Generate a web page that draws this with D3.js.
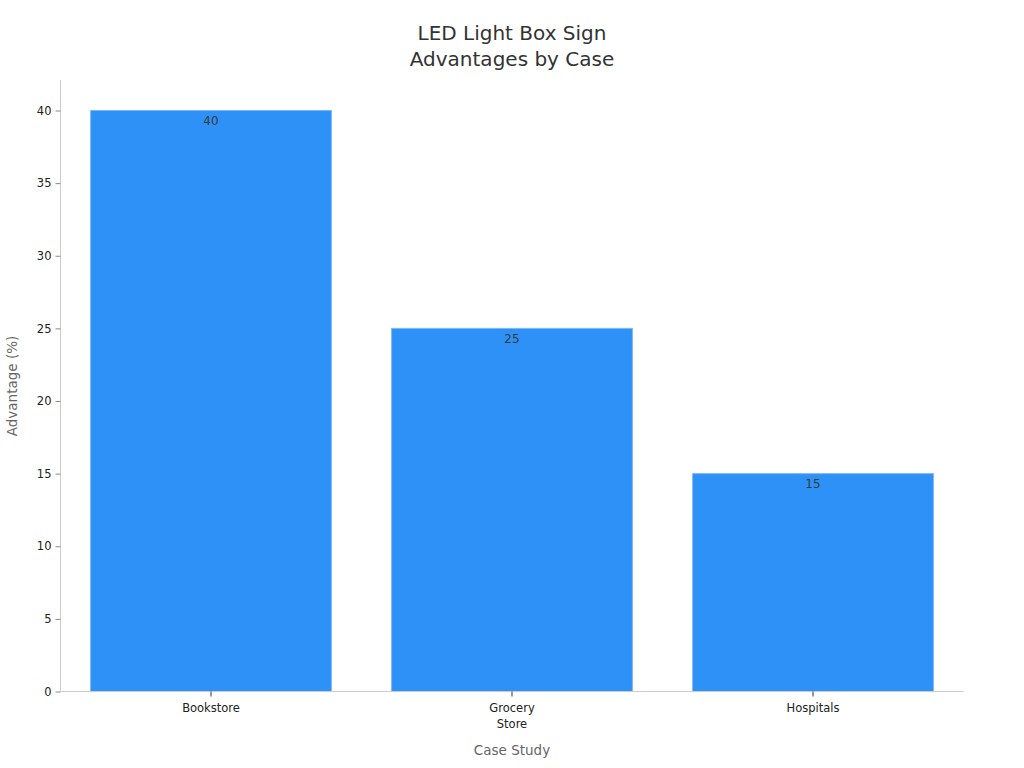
<!DOCTYPE html>
<html><head><meta charset="utf-8">
<script src="https://cdn.jsdelivr.net/npm/d3@7"></script>
<style>body{margin:0;background:#fff;}svg{font-family:"DejaVu Sans",sans-serif;}</style>
</head><body>
<svg id="c" width="1024" height="768"></svg>
<script>
const categories = [["Bookstore"], ["Grocery", "Store"], ["Hospitals"]];
const values = [40, 25, 15];
const yTicks = [0, 5, 10, 15, 20, 25, 30, 35, 40];
const titleLines = ["LED Light Box Sign", "Advantages by Case"];

(function() {
const svg = d3.select("#c");
const mLeft = 60.5, mRight = 963.5, mTop = 80, mBottom = 691.5;
const keys = categories.map(c => c.join(" "));
const x = d3.scaleBand().domain(keys).range([mLeft, mRight]).paddingInner(0.2).paddingOuter(0.1);
const y = d3.scaleLinear().domain([0, 42.1]).range([mBottom, mTop]);

// title
svg.append("text").attr("text-anchor", "middle").attr("fill", "#333")
  .attr("font-size", 20)
  .selectAll("tspan").data(titleLines).join("tspan")
  .attr("x", 512).attr("y", (d, i) => 40 + i * 26).text(d => d);

// bars
svg.selectAll("rect.bar").data(values).join("rect").attr("class", "bar")
  .attr("x", (d, i) => x(keys[i])).attr("width", x.bandwidth())
  .attr("y", d => y(d)).attr("height", d => y(0) - y(d))
  .attr("fill", "#2e91f7").attr("stroke", "#7ab8f5").attr("stroke-width", 1);

// value labels
svg.selectAll("text.val").data(values).join("text").attr("class", "val")
  .attr("x", (d, i) => x(keys[i]) + x.bandwidth() / 2).attr("y", d => y(d) + 14.5)
  .attr("text-anchor", "middle").attr("font-size", 12).attr("fill", "#3a3a3a").text(d => d);

// y axis
const ya = svg.append("g").attr("transform", `translate(${mLeft},0)`)
  .call(d3.axisLeft(y).tickValues(yTicks).tickSize(5).tickPadding(4));
ya.select(".domain").attr("stroke", "#ccc").attr("d", `M0,${mTop}V${mBottom}`);
ya.selectAll(".tick line").attr("stroke", "#888");
ya.selectAll(".tick text").attr("font-size", 11.5).attr("fill", "#222").attr("font-family", "DejaVu Sans");

// x axis
const xa = svg.append("g").attr("transform", `translate(0,${mBottom})`)
  .call(d3.axisBottom(x).tickSize(5).tickPadding(7));
xa.select(".domain").attr("stroke", "#ccc").attr("d", `M${mLeft},0H${mRight}`);
xa.selectAll(".tick line").attr("stroke", "#333");
xa.selectAll(".tick text").attr("font-size", 11.5).attr("fill", "#222").attr("font-family", "DejaVu Sans")
  .text(null)
  .each(function(d, i) {
    d3.select(this).selectAll("tspan").data(categories[i]).join("tspan")
      .attr("x", 0).attr("dy", (t, j) => j === 0 ? "0.71em" : "1.4em").text(t => t);
  });

// axis titles
svg.append("text").attr("x", 512).attr("y", 755).attr("text-anchor", "middle")
  .attr("font-size", 13.5).attr("fill", "#666").text("Case Study");
svg.append("text").attr("transform", "translate(17,386) rotate(-90)").attr("text-anchor", "middle")
  .attr("font-size", 13.5).attr("fill", "#666").text("Advantage (%)");
})();
</script>
</body></html>
